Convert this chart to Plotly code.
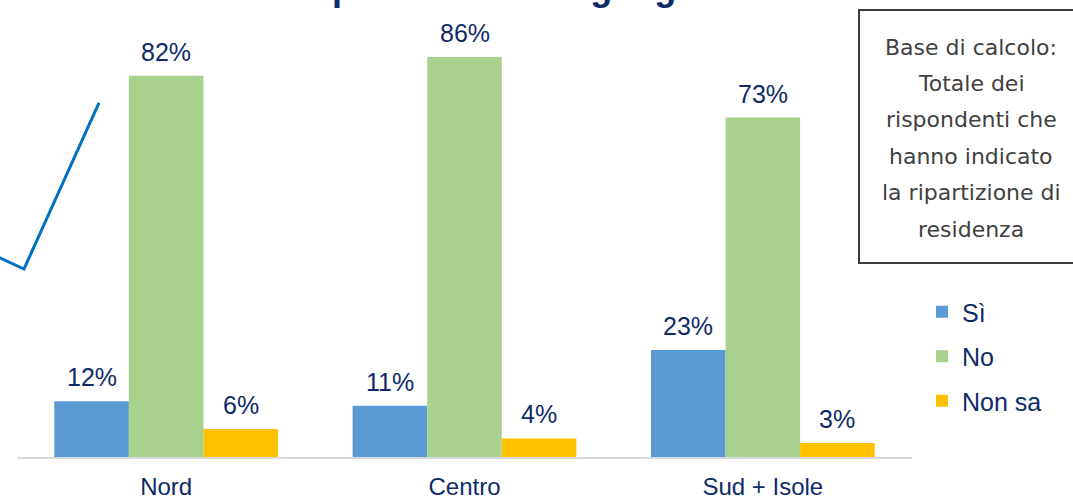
import plotly.graph_objects as go

# ---- data ----
categories = ["Nord", "Centro", "Sud + Isole"]
series_names = ["Sì", "No", "Non sa"]
si_values = [12, 11, 23]
no_values = [82, 86, 73]
nonsa_values = [6, 4, 3]
series_values = [si_values, no_values, nonsa_values]
series_colors = ["#5b9bd5", "#a9d18e", "#ffc000"]
title_text = "Distribuzione per macroarea geografica"
note_lines = ["Base di calcolo:", "Totale dei", "rispondenti che",
              "hanno indicato", "la ripartizione di", "residenza"]

# ---- layout geometry (pixels) ----
W, H = 1073, 501
ML, MR, MT, MB = 17, 161, 38, 44
PW, PH = W - ML - MR, H - MT - MB
TXT = "#0f2a69"


def px_x(p):
    return (p - ML) / PW


def px_y(p):
    return (H - MB - p) / PH


fig = go.Figure()
for name, vals, col in zip(series_names, series_values, series_colors):
    fig.add_trace(go.Bar(
        x=categories, y=vals, name=name, legendgroup=name,
        marker=dict(color=col, line=dict(width=0)),
        hoverinfo="skip",
    ))

# value labels above bars
bar_w = 0.25
for j, vals in enumerate(series_values):
    for i, v in enumerate(vals):
        fig.add_annotation(
            x=i + (j - 1) * bar_w, y=v, xref="x", yref="y",
            text=f"{v}%", showarrow=False, yanchor="middle", yshift=24,
            font=dict(family="Arial", size=25, color=TXT),
        )

# partially visible title (cut at top)
fig.add_annotation(
    x=px_x(775), y=px_y(-13), xref="paper", yref="paper",
    xanchor="right", yanchor="middle", showarrow=False,
    text=f"<b>{title_text}</b>",
    font=dict(family="Arial", size=36, color=TXT),
)

# note box
fig.add_shape(type="rect", xref="paper", yref="paper",
              x0=px_x(859), x1=px_x(1085), y0=px_y(263), y1=px_y(10),
              line=dict(color="#3a3a3a", width=2), fillcolor="white")
for k, line in enumerate(note_lines):
    fig.add_annotation(
        x=px_x(971), y=px_y(47 + k * 36.4), xref="paper", yref="paper",
        text=line, showarrow=False, xanchor="center", yanchor="middle",
        font=dict(family="DejaVu Sans", size=22, color="#404040"),
    )

# blue callout line
pts = [(99, 103), (24, 269), (-4, 256)]
path = "M " + " L ".join(f"{px_x(a):.4f},{px_y(b):.4f}" for a, b in pts)
fig.add_shape(type="path", xref="paper", yref="paper", path=path,
              line=dict(color="#0070c0", width=3))

fig.update_layout(
    width=W, height=H,
    margin=dict(l=ML, r=MR, t=MT, b=MB, autoexpand=False),
    paper_bgcolor="white", plot_bgcolor="white",
    barmode="group", bargap=0.25, bargroupgap=0,
    showlegend=True,
    legend=dict(
        x=px_x(922), y=px_y(289), xanchor="left", yanchor="top",
        font=dict(family="Arial", size=25, color=TXT),
        tracegroupgap=9, traceorder="grouped",
        bgcolor="rgba(0,0,0,0)",
    ),
    xaxis=dict(
        showgrid=False, zeroline=False, showline=True,
        linecolor="#d9d9d9", linewidth=2, ticks="",
        tickfont=dict(family="Arial", size=24, color=TXT),
        ticklabelstandoff=7, automargin=False,
    ),
    yaxis=dict(range=[0, PH / 4.65], visible=False, showgrid=False,
               zeroline=False, automargin=False),
)

fig.write_html(
    "out.html",
    config={"displayModeBar": False},
    post_script="document.body.style.margin='0';document.body.style.overflow='hidden';",
)
